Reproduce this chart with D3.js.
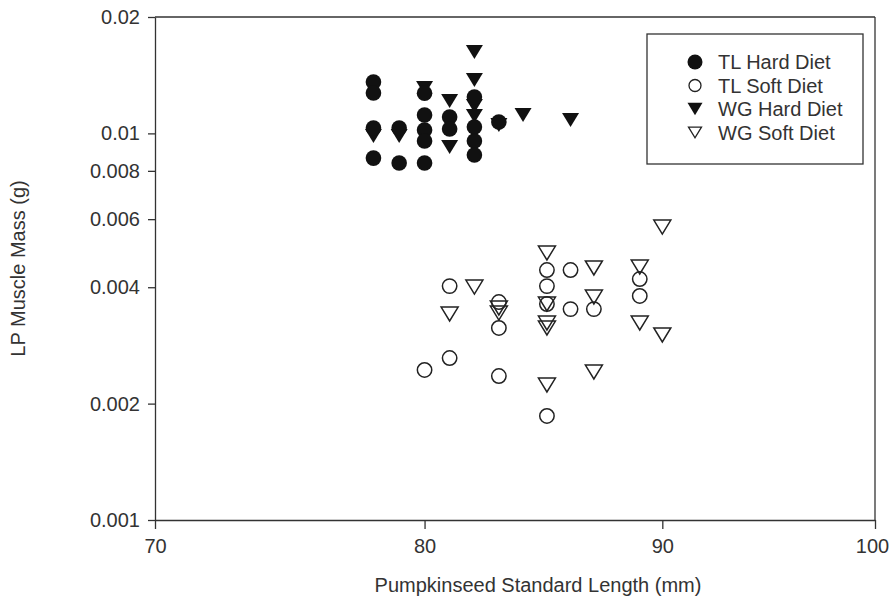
<!DOCTYPE html>
<html lang="en">
<head>
  <meta charset="UTF-8">
  <title>LP muscle mass</title>
  <style>
body { margin: 0; background: #fff; }
svg { display: block; font-family: "Liberation Sans", Arial, sans-serif; }
.axis text { font-size: 20px; fill: #333; }
.axis path, .axis line { stroke: #333; stroke-width: 1.3; }
  </style>
</head>
<body>
<div id="wrapper"></div>
<script src="https://cdnjs.cloudflare.com/ajax/libs/d3/7.8.5/d3.min.js"></script>
<script>

// data (standard length mm, muscle mass g)
const tlHardX = [78, 78, 78, 78, 79, 79, 80, 80, 80, 80, 80, 81, 81, 82, 82, 82, 82, 83]
const tlHardY = [0.01358, 0.01272, 0.01033, 0.00863, 0.01033, 0.00838, 0.0127, 0.01116, 0.0102, 0.00956, 0.00838,
  0.01102, 0.01027, 0.01242, 0.01039, 0.00956, 0.00879, 0.0107]

const tlSoftX = [80, 81, 81, 83, 83, 83, 85, 85, 85, 85, 86, 86, 87, 89, 89]
const tlSoftY = [0.002444, 0.004027, 0.002624, 0.003662, 0.003138, 0.002357, 0.004432, 0.004027, 0.003619, 0.001858,
  0.004432, 0.003512, 0.003512, 0.0042, 0.003797]

const wgHardX = [78, 79, 80, 81, 81, 82, 82, 82, 82, 83, 84, 86]
const wgHardY = [0.00985, 0.00985, 0.0131, 0.01213, 0.00922, 0.01623, 0.01374, 0.01177, 0.01109, 0.01051, 0.01116, 0.01083]

const wgSoftX = [81, 82, 83, 83, 85, 85, 85, 85, 85, 87, 87, 87, 89, 89, 90, 90]
const wgSoftY = [0.00341, 0.004004, 0.003534, 0.00343, 0.004904, 0.003619, 0.003232, 0.003138, 0.002234,
  0.004486, 0.003774, 0.002414, 0.004512, 0.003232, 0.005724, 0.00301]

const xTicks = [70, 80, 90, 100]
const yTicks = [0.001, 0.002, 0.004, 0.006, 0.008, 0.01, 0.02]
const yTickLabels = ["0.001", "0.002", "0.004", "0.006", "0.008", "0.01", "0.02"]

const seriesNames = ["TL Hard Diet", "TL Soft Diet", "WG Hard Diet", "WG Soft Diet"]

// 1. dimensions
let dimensions = {
  width: 889,
  height: 602,
  margin: { top: 17, right: 14, bottom: 82, left: 155 },
}
dimensions.boundedWidth = dimensions.width - dimensions.margin.left - dimensions.margin.right
dimensions.boundedHeight = dimensions.height - dimensions.margin.top - dimensions.margin.bottom

// 2. canvas
const wrapper = d3.select("#wrapper")
  .append("svg")
  .attr("width", dimensions.width)
  .attr("height", dimensions.height)

const bounds = wrapper.append("g")
  .attr("transform", "translate(" + dimensions.margin.left + "," + dimensions.margin.top + ")")

// 3. scales (both axes are logarithmic)
const xScale = d3.scaleLog()
  .domain([70, 100])
  .range([0, dimensions.boundedWidth])

const yScale = d3.scaleLog()
  .domain([0.001, 0.02])
  .range([dimensions.boundedHeight, 0])

// 4. frame + axes
const frame = bounds.append("g")
frame.append("line")
  .attr("x1", 0).attr("x2", dimensions.boundedWidth)
  .attr("y1", yScale(0.02)).attr("y2", yScale(0.02))
  .attr("stroke", "#333").attr("stroke-width", 1.3)
frame.append("line")
  .attr("x1", xScale(100)).attr("x2", xScale(100))
  .attr("y1", 0).attr("y2", dimensions.boundedHeight)
  .attr("stroke", "#333").attr("stroke-width", 1.3)

const yAxisGenerator = d3.axisLeft(yScale)
  .tickValues(yTicks)
  .tickFormat((d, i) => yTickLabels[i])
  .tickSize(7)
  .tickSizeOuter(0)
  .tickPadding(8)

const yAxis = bounds.append("g")
  .attr("class", "axis y-axis")
  .call(yAxisGenerator)

const xAxisGenerator = d3.axisBottom(xScale)
  .tickValues(xTicks)
  .tickFormat(d3.format("d"))
  .tickSize(9)
  .tickSizeOuter(0)
  .tickPadding(10)

const xAxis = bounds.append("g")
  .attr("class", "axis x-axis")
  .attr("transform", "translate(0," + dimensions.boundedHeight + ")")
  .call(xAxisGenerator)

// last label would hang off the edge, nudge it in a bit
xAxis.selectAll(".tick text")
  .filter(d => d === 100)
  .attr("dx", -3)

// axis titles
wrapper.append("text")
  .attr("x", 538)
  .attr("y", 592)
  .attr("text-anchor", "middle")
  .attr("font-size", 20)
  .attr("fill", "#333")
  .text("Pumpkinseed Standard Length (mm)")

wrapper.append("text")
  .attr("transform", "translate(25," + (dimensions.margin.top + dimensions.boundedHeight / 2) + ") rotate(-90)")
  .attr("text-anchor", "middle")
  .attr("font-size", 20)
  .attr("fill", "#333")
  .text("LP Muscle Mass (g)")

// 5. marks
const triangle = s => "M" + (-s) + "," + (-s * 0.82) + "L" + s + "," + (-s * 0.82) + "L0," + (s * 0.82) + "Z"

function drawCircles(xs, ys, filled) {
  bounds.append("g").selectAll("circle")
    .data(xs.map((x, i) => [x, ys[i]]))
    .join("circle")
    .attr("cx", d => xScale(d[0]))
    .attr("cy", d => yScale(d[1]))
    .attr("r", filled ? 7.8 : 7.2)
    .attr("fill", filled ? "#111" : "none")
    .attr("stroke", "#222")
    .attr("stroke-width", filled ? 0 : 1.5)
}

function drawTriangles(xs, ys, filled) {
  bounds.append("g").selectAll("path")
    .data(xs.map((x, i) => [x, ys[i]]))
    .join("path")
    .attr("d", triangle(8.5))
    .attr("transform", d => "translate(" + xScale(d[0]) + "," + yScale(d[1]) + ")")
    .attr("fill", filled ? "#111" : "none")
    .attr("stroke", "#222")
    .attr("stroke-width", filled ? 0 : 1.5)
}

drawTriangles(wgSoftX, wgSoftY, false)
drawCircles(tlSoftX, tlSoftY, false)
drawTriangles(wgHardX, wgHardY, true)
drawCircles(tlHardX, tlHardY, true)

// 6. legend
const legend = wrapper.append("g")
  .attr("transform", "translate(647,34)")

legend.append("rect")
  .attr("width", 216)
  .attr("height", 130)
  .attr("fill", "#fff")
  .attr("stroke", "#333")
  .attr("stroke-width", 1.3)

const rows = legend.selectAll("g")
  .data(seriesNames)
  .join("g")
  .attr("transform", (d, i) => "translate(48," + (28 + i * 23.5) + ")")

rows.each(function (d, i) {
  const g = d3.select(this)
  if (i === 0) g.append("circle").attr("r", 7.5).attr("fill", "#111")
  if (i === 1) g.append("circle").attr("r", 6).attr("fill", "none").attr("stroke", "#222").attr("stroke-width", 1.3)
  if (i === 2) g.append("path").attr("d", triangle(7.5)).attr("fill", "#111")
  if (i === 3) g.append("path").attr("d", triangle(6.5)).attr("fill", "none").attr("stroke", "#222").attr("stroke-width", 1.3)
  g.append("text")
    .attr("x", 23)
    .attr("y", 7)
    .attr("font-size", 20)
    .attr("fill", "#333")
    .text(d)
})

</script>
</body>
</html>
